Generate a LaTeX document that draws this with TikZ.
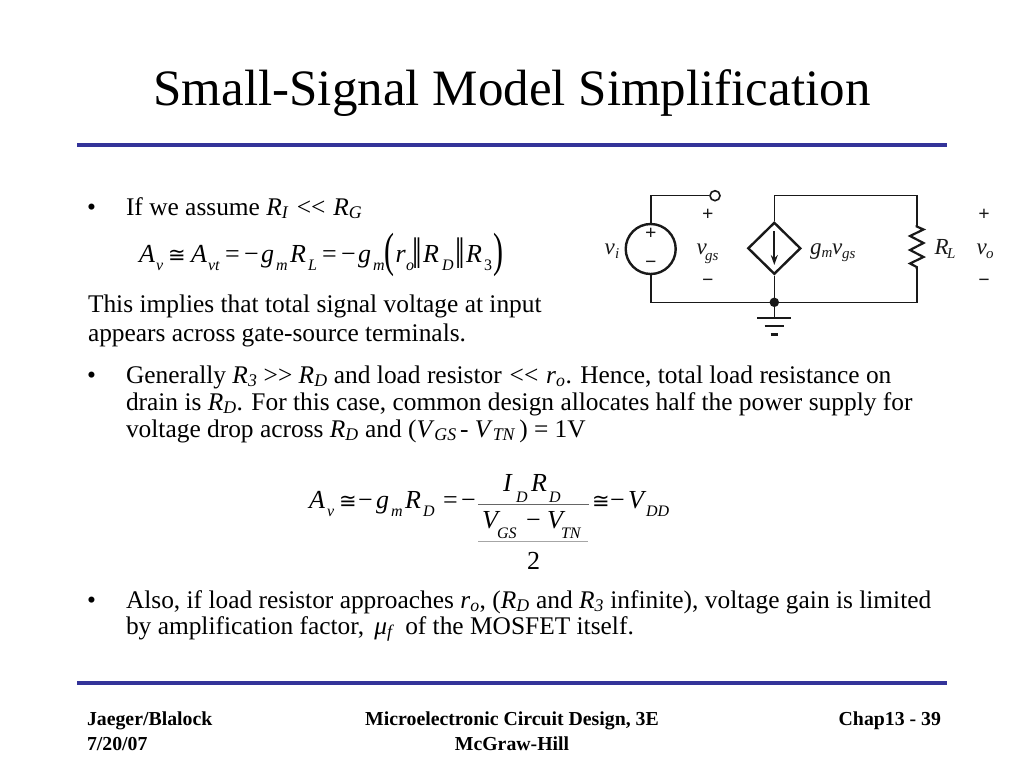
\documentclass[tikz,border=0pt]{standalone}
\usepackage{fontspec}
\setmainfont{Liberation Serif}
\newfontfamily\symf{DejaVu Sans}
\usetikzlibrary{arrows.meta,shapes.geometric}
\definecolor{rulecol}{RGB}{51,51,153}
\definecolor{ink}{RGB}{25,25,25}
\newcommand{\Rsub}[2]{\textit{#1}\textsubscript{\textit{#2}}}
\newcommand{\dlt}{\hspace{1.5pt}<{}<\hspace{1.5pt}}
\newcommand{\dgt}{>{}>}
\tikzset{
  txt/.style={anchor=base west,inner sep=0pt,outer sep=0pt,text=black,font=\fontsize{25.4}{26}\selectfont},
  eq/.style={anchor=base west,inner sep=0pt,outer sep=0pt,text=black,font=\fontsize{26}{26}\selectfont},
  eqi/.style={eq,font=\fontsize{26}{26}\selectfont\itshape},
  eqs/.style={eq,font=\fontsize{16}{16}\selectfont\itshape},
  eqc/.style={eq,font=\fontsize{21}{21}\selectfont\symf},
  foot/.style={anchor=base west,inner sep=0pt,outer sep=0pt,font=\fontsize{19.8}{20}\selectfont\bfseries},
  rulebar/.style={rulecol,line width=3.4pt},
  wire/.style={ink,line width=1.6pt},
  circ/.style={anchor=base west,inner sep=0pt,outer sep=0pt,text=ink,font=\fontsize{23}{23}\selectfont\itshape},
  circs/.style={circ,font=\fontsize{15}{15}\selectfont\itshape},
  sign/.style={anchor=center,inner sep=0pt,outer sep=0pt,text=ink,font=\fontsize{20}{20}\selectfont\bfseries},
}
\begin{document}
\begin{tikzpicture}[x=1pt,y=-1pt]
\useasboundingbox (0,0) rectangle (1024,768);
\node[anchor=base,inner sep=0,font=\fontsize{51}{51}\selectfont] (title) at (512,105) {Small-Signal Model Simplification};
\coordinate (r1a) at (77,145); \coordinate (r1b) at (947,145);
\coordinate (r2a) at (77,683); \coordinate (r2b) at (947,683);
\draw[rulebar] (r1a)--(r1b);
\draw[rulebar] (r2a)--(r2b);
% body
\node[txt] (b1) at (87,215) {•};
\node[txt] (t1) at (126,215) {If we assume \Rsub{R}{I} \dlt\ \Rsub{R}{G}};
\node[txt] (t2) at (88,312) {This implies that total signal voltage at input};
\node[txt] (t3) at (88,341) {appears across gate-source terminals.};
\node[txt] (b2) at (87,383) {•};
\node[txt] (t4) at (126,383) {Generally \Rsub{R}{3} \dgt\ \Rsub{R}{D} and load resistor \dlt\ \textit{r}\textsubscript{\textit{o}}. Hence, total load resistance on};
\node[txt] (t5) at (126,410) {drain is \Rsub{R}{D}. For this case, common design allocates half the power supply for};
\node[txt] (t6) at (126,437) {voltage drop across \Rsub{R}{D} and (\Rsub{V}{GS}\hspace{-3pt} - \Rsub{V}{TN}\hspace{-3pt} ) = 1V};
\node[txt] (b3) at (87,608) {•};
\node[txt] (t7) at (126,608) {Also, if load resistor approaches \textit{r}\textsubscript{\textit{o}}, (\Rsub{R}{D} and \Rsub{R}{3} infinite), voltage gain is limited};
\node[txt] (t8) at (126,634) {by amplification factor, \hspace{4pt}\Rsub{μ}{f}\, of the MOSFET itself.};
% equation 1
\node[eqi] (e1) at (139,262) {A}; \node[eqs] (e2) at (156,270) {v};
\node[eqc] (e3) at (168,262) {≅};
\node[eqi] (e4) at (191,262) {A}; \node[eqs] (e5) at (208,270) {vt};
\node[eq] (e6) at (225,262) {=}; \node[eq] (e7) at (244,262) {−};
\node[eqi] (e8) at (261,262) {g}; \node[eqs] (e9) at (276,270) {m};
\node[eqi] (e10) at (290,262) {R}; \node[eqs] (e11) at (308,270) {L};
\node[eq] (e12) at (322,262) {=}; \node[eq] (e13) at (341,262) {−};
\node[eqi] (e14) at (358,262) {g}; \node[eqs] (e15) at (373,270) {m};
\node[eq,font=\fontsize{40}{40}\selectfont] (e16) at (384,266) {\scalebox{.75}[1.2]{(}};
\node[eqi] (e17) at (395.5,262) {r}; \node[eqs] (e18) at (406,270) {o};
\node[eq,font=\fontsize{34}{34}\selectfont] (e19) at (412,268) {\scalebox{1}[1.3]{‖}};
\node[eqi] (e20) at (423,262) {R}; \node[eqs] (e21) at (442,270) {D};
\node[eq,font=\fontsize{34}{34}\selectfont] (e22) at (455,268) {\scalebox{1}[1.3]{‖}};
\node[eqi] (e23) at (466,262) {R}; \node[eq,font=\fontsize{16}{16}\selectfont] (e24) at (484,270) {3};
\node[eq,font=\fontsize{40}{40}\selectfont] (e25) at (493,266) {\scalebox{.75}[1.2]{)}};
% equation 2
\node[eqi] (f1) at (309,508) {A}; \node[eqs] (f2) at (327,516) {v};
\node[eqc] (f3) at (339,508) {≅}; \node[eq] (f4) at (358,508) {−};
\node[eqi] (f5) at (376,508) {g}; \node[eqs] (f6) at (391,516) {m};
\node[eqi] (f7) at (405,508) {R}; \node[eqs] (f8) at (423,516) {D};
\node[eq] (f9) at (443,508) {=}; \node[eq] (f10) at (461,508) {−};
\node[eqi] (f11) at (503,491) {I}; \node[eqs] (f12) at (516,502) {D};
\node[eqi] (f13) at (531,491) {R}; \node[eqs] (f14) at (549,502) {D};
\node[eqi] (f15) at (482,528) {V}; \node[eqs] (f16) at (497,538) {GS};
\node[eq] (f17) at (526,528) {−};
\node[eqi] (f18) at (547,528) {V}; \node[eqs] (f19) at (561,538) {TN};
\node[eq] (f20) at (527,569) {2};
\coordinate (la) at (478,504); \coordinate (lb) at (589,504);
\coordinate (lc) at (478,541.5); \coordinate (ld) at (588,541.5);
\draw[black!60,line width=.7pt] (la)--(lb);
\draw[black!35,line width=.7pt] (lc)--(ld);
\node[eqc] (f21) at (592,508) {≅}; \node[eq] (f22) at (610,508) {−};
\node[eqi] (f23) at (628,508) {V}; \node[eqs] (f24) at (646,516) {DD};
% footer
\node[foot] (g1) at (87,725) {Jaeger/Blalock};
\node[foot] (g2) at (87,750) {7/20/07};
\node[foot,anchor=base] (g3) at (512,725) {Microelectronic Circuit Design, 3E};
\node[foot,anchor=base] (g4) at (512,750) {McGraw-Hill};
\node[foot,anchor=base east] (g5) at (941,725) {Chap13 - 39};
% circuit
\node[circle,draw=ink,line width=2.4pt,minimum size=50pt,inner sep=0] (src) at (650.7,249) {};
\node[diamond,draw=ink,line width=2.4pt,minimum width=53pt,minimum height=52pt,inner sep=0] (cs) at (774.3,248.3) {};
\node[circle,draw=ink,line width=1.6pt,minimum size=10pt,inner sep=0] (gate) at (715,195.7) {};
\node[circle,fill=ink,minimum size=9.5pt,inner sep=0] (gnd) at (774.3,302.3) {};
\coordinate (tl) at (650.7,195.5); \coordinate (bl) at (650.7,302.3);
\coordinate (tm) at (774.3,195.5); \coordinate (tr) at (916.7,195.5); \coordinate (br) at (916.7,302.3);
\coordinate (ra) at (916.7,225); \coordinate (rb) at (916.7,269);
\draw[wire] (src.north)--(tl)--(gate.west |- tl);
\draw[wire] (src.south)--(bl)--(gnd.center)--(br)--(rb);
\draw[wire] (cs.north)--(tm)--(tr)--(ra);
\draw[wire] (cs.south)--(gnd.center);
\draw[ink,line width=2.2pt,line join=miter] (ra)--(916.7,226.5)--(923.5,229.5)--(910,236)--(923.5,243)--(910,250)--(923.5,257)--(910,263.5)--(916.7,267)--(rb);
\coordinate (aa) at (774.3,231); \coordinate (ab) at (774.3,265);
\draw[ink,line width=1.8pt,-{Stealth[length=10pt,width=7pt]}] (aa)--(ab);
\coordinate (g0) at (774.3,317.7);
\draw[wire] (gnd.center)--(g0);
\coordinate (g1a) at (757,317.7); \coordinate (g1b) at (791,317.7);
\coordinate (g2a) at (764.5,326); \coordinate (g2b) at (783.5,326);
\coordinate (g3a) at (770.5,334.5); \coordinate (g3b) at (777.5,334.5);
\draw[ink,line width=1.9pt] (g1a)--(g1b);
\draw[ink,line width=1.9pt] (g2a)--(g2b);
\draw[ink,line width=2.6pt] (g3a)--(g3b);
\node[sign] (s1) at (650.7,234) {+};
\node[sign] (s2) at (650.7,264.5) {−};
\node[sign] (s3) at (707.7,215) {+};
\node[sign] (s4) at (707.7,283) {−};
\node[sign] (s5) at (984,215) {+};
\node[sign] (s6) at (984,283) {−};
\node[circ] (vi) at (604.5,254) {v}; \node[circs] (vis) at (615,258) {i};
\node[circ] (vg) at (696.5,254) {v}; \node[circs] (vgs) at (705,260) {gs};
\node[circ] (gm) at (810,254) {g}; \node[circs] (gms) at (821.5,257) {m};
\node[circ] (gv) at (832,254) {v}; \node[circs] (gvs) at (842,258) {gs};
\node[circ] (rl) at (934.5,254) {R}; \node[circs] (rls) at (947,258) {L};
\node[circ] (vo) at (976.5,254) {v}; \node[circs] (vos) at (986,258) {o};
\end{tikzpicture}
\end{document}
